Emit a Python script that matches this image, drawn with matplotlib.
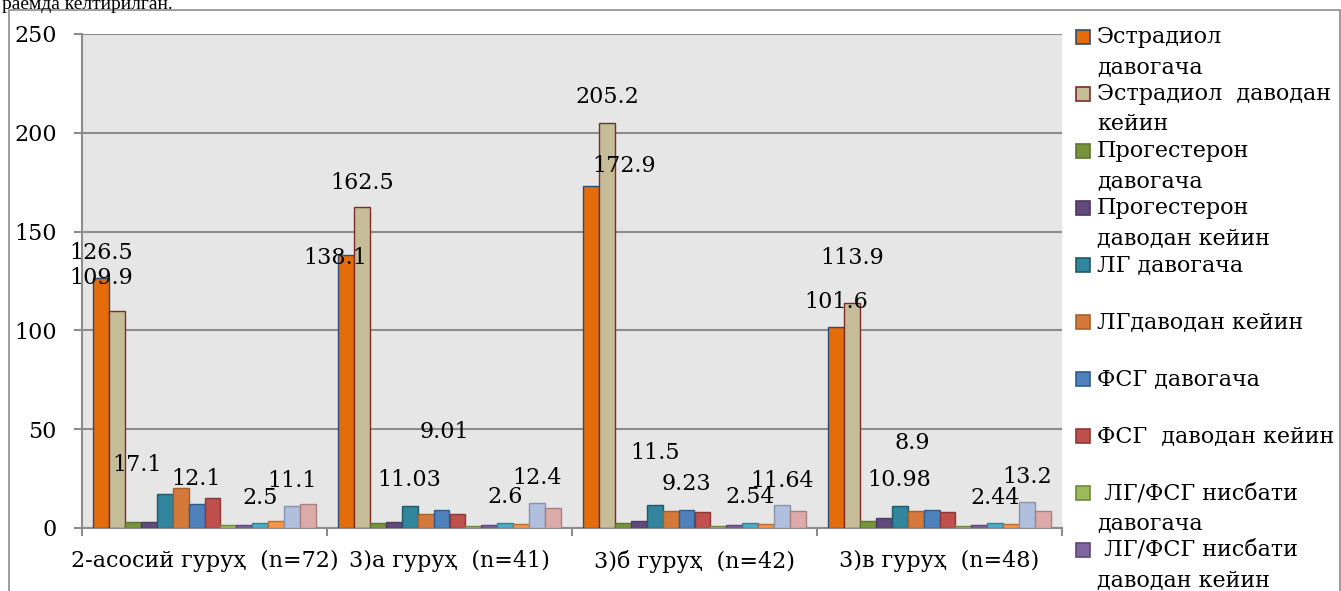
import matplotlib
matplotlib.use("Agg")
import matplotlib.pyplot as plt
from matplotlib.patches import Rectangle
import numpy as np

# ---------------- data ----------------
categories = ["2-асосий гуруҳ  (n=72)", "3)а гуруҳ  (n=41)", "3)б гуруҳ  (n=42)", "3)в гуруҳ  (n=48)"]

series_names = [
    "Эстрадиол\nдавогача",
    "Эстрадиол  даводан\nкейин",
    "Прогестерон\nдавогача",
    "Прогестерон\nдаводан кейин",
    "ЛГ давогача",
    "ЛГдаводан кейин",
    "ФСГ давогача",
    "ФСГ  даводан кейин",
    " ЛГ/ФСГ нисбати\nдавогача",
    " ЛГ/ФСГ нисбати\nдаводан кейин",
    "series 11", "series 12", "series 13", "series 14",   # not visible in the cropped legend
]

estradiol_before = [126.5, 138.1, 172.9, 101.6]
estradiol_after = [109.9, 162.5, 205.2, 113.9]
progesteron_before = [3.2, 2.7, 2.4, 3.7]
progesteron_after = [3.0, 3.2, 3.4, 4.9]
lg_before = [17.1, 11.03, 11.5, 10.98]
lg_after = [20.2, 7.3, 8.6, 8.6]
fsg_before = [12.1, 9.01, 9.23, 8.9]
fsg_after = [15.2, 6.9, 7.9, 7.9]
ratio_before = [1.5, 1.2, 1.2, 1.2]
ratio_after = [1.3, 1.5, 1.6, 1.5]
series_11 = [2.5, 2.6, 2.54, 2.44]
series_12 = [3.3, 2.2, 1.9, 1.8]
series_13 = [11.1, 12.4, 11.64, 13.2]
series_14 = [12.1, 10.3, 8.6, 8.4]

values = [estradiol_before, estradiol_after, progesteron_before, progesteron_after,
          lg_before, lg_after, fsg_before, fsg_after, ratio_before, ratio_after,
          series_11, series_12, series_13, series_14]

yticks = [0, 50, 100, 150, 200, 250]

# ---------------- styles ----------------
fills = ["#E46C0A", "#C4BD97", "#77933C", "#604A7B", "#31859C", "#D4793A", "#4F81BD",
         "#C0504D", "#9BBB59", "#8064A2", "#4BACC6", "#F79646", "#AFBFDD", "#DDAAAA"]
edges = ["#2F4B73", "#7F2A2A", "#5E7530", "#4B3A61", "#215968", "#A8602A", "#2F5C8F",
         "#8C3836", "#71893F", "#5C4776", "#357D91", "#B66D31", "#8593AD", "#A88080"]

# label offsets (pixels) relative to top-centre of the bar, per labelled series / group
label_series = [0, 1, 4, 6, 10, 12]
label_offsets = {
    0: [(0, 25), (-11, -3), (33, 20), (0, 25)],
    1: [(-16, 33), (0, 24), (0, 26), (0, 45)],
    4: [(-28, 29), (0, 26), (0, 52), (0, 26)],
    6: [(0, 25), (3, 78), (0, 26), (-19, 67)],
    10: [(0, 25), (0, 26), (0, 26), (0, 25)],
    12: [(0, 25), (0, 25), (0, 24), (0, 25)],
}

W, H = 1341, 591
fig = plt.figure(figsize=(W / 100, H / 100), dpi=100)
fig.patch.set_facecolor("white")

serif = "DejaVu Serif"
fs = 16

# axes placement in pixels
L, R, T, B = 82, 1062, 34, 528
ax = fig.add_axes([L / W, 1 - B / H, (R - L) / W, (B - T) / H])
ax.set_facecolor("#E6E6E6")

n = len(values)
bw = 15.9 / 245.0
x = np.arange(len(categories))
for k, (vals, fc, ec) in enumerate(zip(values, fills, edges)):
    ax.bar(x + (k - (n - 1) / 2) * bw, vals, width=bw, color=fc, edgecolor=ec,
           linewidth=1.0, zorder=3)

for k in label_series:
    for g, v in enumerate(values[k]):
        dx, dy = label_offsets[k][g]
        ax.annotate(f"{v:g}", xy=(x[g] + (k - (n - 1) / 2) * bw, v),
                    xytext=(dx, dy), textcoords="offset pixels",
                    ha="center", va="center", fontsize=fs, family=serif,
                    color="black", zorder=5, annotation_clip=False)

ax.set_xlim(-0.5, len(categories) - 0.5)
ax.set_ylim(0, 250)
ax.set_yticks(yticks)
ax.set_yticklabels([str(t) for t in yticks], family=serif, fontsize=fs)
ax.yaxis.grid(True, color="#8C8C8C", linewidth=1.5, zorder=1)
ax.set_axisbelow(True)

ax.set_xticks(np.arange(len(categories) + 1) - 0.5)
ax.set_xticklabels([])
ax.set_xticks(x, minor=True)
ax.set_xticklabels(categories, minor=True, family=serif, fontsize=fs)
ax.tick_params(axis="x", which="minor", length=0, pad=16)
ax.tick_params(axis="x", which="major", length=6, width=1.5, color="#8C8C8C", direction="out")
ax.tick_params(axis="y", length=6, width=1.5, color="#8C8C8C", direction="out", pad=12)

for s in ["top", "right"]:
    ax.spines[s].set_visible(False)
for s in ["left", "bottom"]:
    ax.spines[s].set_color("#8C8C8C")
    ax.spines[s].set_linewidth(1.5)

# outer chart border
fig.add_artist(Rectangle((9 / W, -0.05), (1340 - 9) / W, 1.05 - 10 / H,
                         transform=fig.transFigure, fill=False,
                         edgecolor="#8C8C8C", linewidth=1.2))

# document text cut off at the top
fig.text(2 / W, 1 - 9 / H, "раемда келтирилган.", family="Liberation Serif",
         fontsize=14, va="baseline", ha="left")

# legend (first 10 entries visible)
y0, step, line = 37, 57.0, 30
for i in range(10):
    yc = y0 + i * step
    fig.add_artist(Rectangle((1076 / W, 1 - (yc + 7) / H), 14 / W, 14 / H,
                             transform=fig.transFigure, facecolor=fills[i],
                             edgecolor=edges[i], linewidth=1.2))
    for j, ln in enumerate(series_names[i].split("\n")):
        fig.text(1097 / W, 1 - (yc + j * line) / H, ln, family=serif,
                 fontsize=fs, va="center", ha="left")

fig.savefig("out.png", dpi=100)
